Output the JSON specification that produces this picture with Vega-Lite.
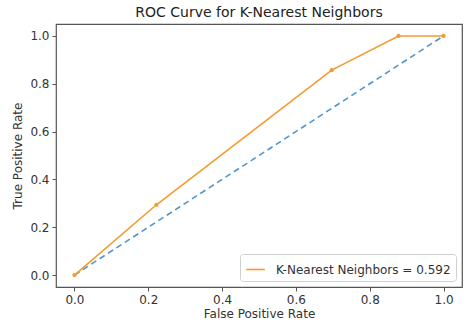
{
  "$schema": "https://vega.github.io/schema/vega-lite/v6.json",
  "width": 406,
  "height": 263,
  "autosize": {"type": "none"},
  "padding": {"left": 56, "top": 24, "right": 5, "bottom": 42},
  "title": {"text": "ROC Curve for K-Nearest Neighbors", "fontSize": 14, "font": "DejaVu Sans", "fontWeight": "normal", "color": "#222", "offset": 4, "anchor": "middle"},
  "config": {
    "font": "DejaVu Sans",
    "view": {"stroke": "#555", "strokeWidth": 1.2},
    "axis": {"domain": false, "grid": false, "tickColor": "#555", "tickSize": 4, "labelColor": "#333", "labelFontSize": 12, "labelPadding": 3, "titleColor": "#333", "titleFontSize": 12, "titleFontWeight": "normal"}
  },
  "datasets": {
    "diag": [{"fpr": 0, "tpr": 0}, {"fpr": 1, "tpr": 1}],
    "roc": [
      {"fpr": 0.0, "tpr": 0.0, "model": "K-Nearest Neighbors = 0.592"},
      {"fpr": 0.222, "tpr": 0.294, "model": "K-Nearest Neighbors = 0.592"},
      {"fpr": 0.697, "tpr": 0.857, "model": "K-Nearest Neighbors = 0.592"},
      {"fpr": 0.878, "tpr": 1.0, "model": "K-Nearest Neighbors = 0.592"},
      {"fpr": 1.0, "tpr": 1.0, "model": "K-Nearest Neighbors = 0.592"}
    ]
  },
  "layer": [
    {
      "data": {"name": "diag"},
      "mark": {"type": "line", "color": "#3d8ac4", "strokeDash": [6, 4], "strokeWidth": 1.6, "opacity": 0.9},
      "encoding": {
        "x": {"field": "fpr", "type": "quantitative", "scale": {"domain": [-0.05, 1.05], "nice": false, "zero": false}, "axis": {"values": [0, 0.2, 0.4, 0.6, 0.8, 1.0], "format": ".1f", "title": "False Positive Rate", "titlePadding": 3}},
        "y": {"field": "tpr", "type": "quantitative", "scale": {"domain": [-0.05, 1.05], "nice": false, "zero": false}, "axis": {"values": [0, 0.2, 0.4, 0.6, 0.8, 1.0], "format": ".1f", "title": "True Positive Rate", "titlePadding": 5}}
      }
    },
    {
      "data": {"name": "roc"},
      "mark": {"type": "line", "strokeWidth": 1.6, "point": {"size": 18, "filled": true}},
      "encoding": {
        "x": {"field": "fpr", "type": "quantitative"},
        "y": {"field": "tpr", "type": "quantitative"},
        "color": {"field": "model", "type": "nominal", "scale": {"range": ["#f59a2e"]}, "legend": {"title": null, "orient": "bottom-right", "offset": 6, "strokeColor": "#d0d0d0", "fillColor": "white", "padding": 5, "cornerRadius": 3, "symbolType": "stroke", "symbolSize": 350, "symbolStrokeWidth": 1.6, "labelFontSize": 12, "labelColor": "#333", "labelOffset": 10, "labelLimit": 400}}
      }
    }
  ]
}
